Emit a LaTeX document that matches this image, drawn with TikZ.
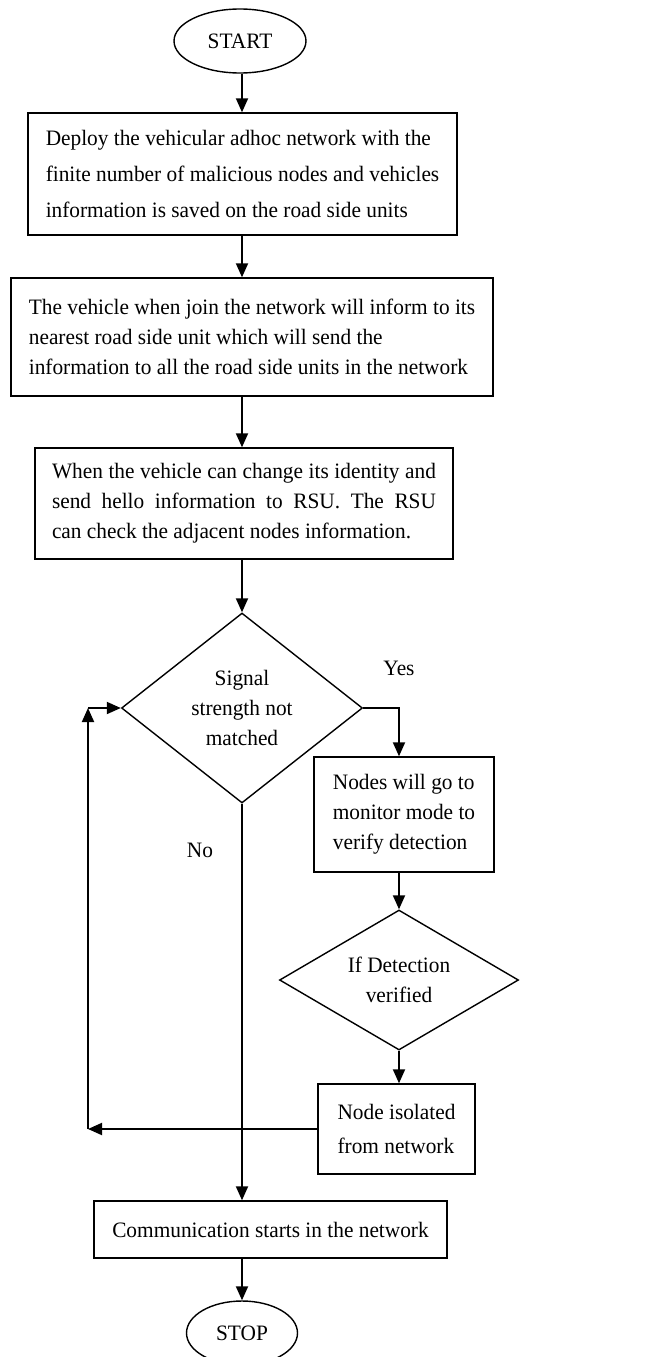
\documentclass[tikz,border=0pt]{standalone}
\usepackage{fontspec}
\setmainfont{Liberation Serif}[FakeStretch=0.97]
\usetikzlibrary{arrows.meta, positioning, calc, shapes.geometric}
\definecolor{ink}{HTML}{000000}

\begin{document}
\begin{tikzpicture}[x=1pt, y=-1pt,
    every node/.style={font=\fontsize{22}{30}\selectfont, text=ink},
    blk/.style={draw=ink, line width=1.4pt, inner xsep=17pt, inner ysep=0pt, align=left},
    term/.style={draw=ink, ellipse, line width=1.4pt, inner sep=0pt},
    dec/.style={draw=ink, diamond, line width=1.4pt, inner sep=0pt, align=center},
    arr/.style={ink, line width=1.9pt, -{Triangle[length=14pt, width=12pt]}},
]
\useasboundingbox (0,0) rectangle (652,1357);

% the columns the connectors run along
\coordinate (spine) at (242,0);
\coordinate (rcol) at (399,0);
\coordinate (loopx) at (88,0);

\node[term, minimum width=132pt, minimum height=64pt] (start) at (240,41) {START};

\node[blk, minimum width=429pt, minimum height=122pt, font=\fontsize{22}{36}\selectfont]
     (deploy) at (242.5,174)
     {Deploy the vehicular adhoc network with the\\ finite number of malicious nodes and vehicles\\ information is saved on the road side units};

\node[blk, minimum width=482pt, minimum height=118pt] (join) at (252,337)
     {The vehicle when join the network will inform to its\\ nearest road side unit which will send the\\ information to all the road side units in the network};

\node[blk, align=justify, text width=384pt, minimum height=111pt] (hello) at (244,503.5)
     {\frenchspacing When the vehicle can change its identity and\linebreak send hello information to RSU. The RSU\linebreak can check the adjacent nodes information.};

\node[dec, minimum width=241pt, minimum height=190pt, aspect=1.27] (sig) at (242,708)
     {Signal\\ strength not\\ matched};

\node[blk, minimum width=180pt, minimum height=115pt] (monitor) at (404,814.5)
     {Nodes will go to\\ monitor mode to\\ verify detection};

\node[dec, minimum width=239pt, minimum height=140pt, aspect=1.7] (verify) at (399,980)
     {If Detection\\ verified};

\node[blk, minimum width=157pt, minimum height=90pt, font=\fontsize{22}{34}\selectfont]
     (isolate) at (396.5,1129) {Node isolated\\ from network};

\node[blk, minimum width=353pt, minimum height=57pt] (comm) at (270.5,1229.5)
     {Communication starts in the network};

\node[term, minimum width=111pt, minimum height=64pt] (stop) at (242,1333) {STOP};

\node (yes) at (399,668) {Yes};
\node (no) at (200,850) {No};

% main line
\draw[arr] (start.south -| spine) -- (deploy.north -| spine);
\draw[arr] (deploy.south -| spine) -- (join.north -| spine);
\draw[arr] (join.south -| spine) -- (hello.north -| spine);
\draw[arr] (hello.south -| spine) -- (sig.north);
\draw[arr] (sig.south) -- (sig.south |- comm.north);
\draw[arr] (comm.south -| spine) -- (stop.north);

% the yes branch and the way back
\draw[arr] (sig.east) -| (monitor.north -| rcol);
\draw[arr] (monitor.south -| rcol) -- (verify.north);
\draw[arr] (verify.south) -- (isolate.north -| rcol);
\draw[arr] (isolate.west) -- (isolate.west -| loopx);
\draw[arr] (isolate.west -| loopx) -- (sig.west -| loopx);
\draw[arr] (sig.west -| loopx) -- (sig.west);
\end{tikzpicture}
\end{document}
